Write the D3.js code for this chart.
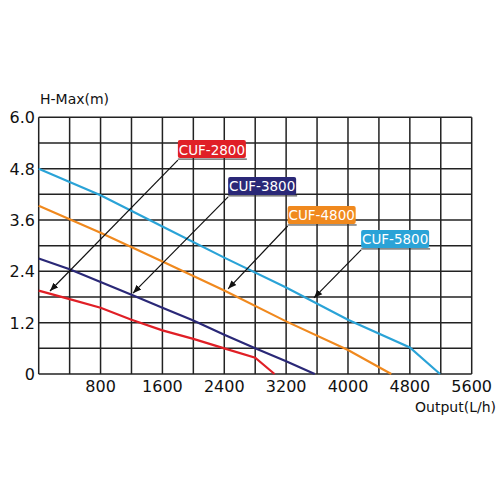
<!DOCTYPE html>
<html><head><meta charset="UTF-8">
<script src="https://d3js.org/d3.v7.min.js"></script>
<style>body{margin:0;background:#fff}svg{display:block}text{font-family:"DejaVu Sans",sans-serif}</style>
</head><body><svg width="500" height="500"></svg>
<script>
const xTicks = [800, 1600, 2400, 3200, 4000, 4800, 5600];
const yTicks = [0, 1.2, 2.4, 3.6, 4.8, 6.0];
const cuf2800 = [[0,1.95],[400,1.75],[800,1.55],[1200,1.27],[1600,1.02],[2000,0.82],[2400,0.6],[2800,0.38],[3050,0]];
const cuf3800 = [[0,2.7],[400,2.45],[800,2.15],[1200,1.85],[1600,1.55],[2000,1.25],[2400,0.92],[2800,0.6],[3200,0.3],[3570,0]];
const cuf4800 = [[0,3.93],[800,3.3],[1600,2.63],[2400,1.95],[3200,1.23],[4000,0.56],[4560,0]];
const cuf5800 = [[0,4.8],[800,4.18],[1600,3.45],[2400,2.72],[3200,2.02],[4000,1.27],[4800,0.62],[5190,0]];
const names = ["CUF-2800", "CUF-3800", "CUF-4800", "CUF-5800"];
const colors = ["#e01f26", "#2a2877", "#f0891e", "#2aa3d7"];
// label anchor (arrow start) and arrow tip, data coords
const arrowFrom = [[1800,5.0],[2450,4.14],[3220,3.46],[4170,2.9]];
const arrowTo = [[146,1.94],[1220,1.89],[2450,1.99],[3560,1.78]];

const svg = d3.select("svg");
const x = d3.scaleLinear().domain([0, 5600]).range([38.7, 471.7]);
const y = d3.scaleLinear().domain([0, 6]).range([374, 117.3]);

svg.append("defs").append("marker").attr("id","arr").attr("viewBox","0 -5 10 10")
  .attr("refX",10).attr("markerWidth",7).attr("markerHeight",7).attr("orient","auto")
  .append("path").attr("d","M0,-4L10,0L0,4Z").attr("fill","#111");

const g = svg.append("g");
g.selectAll(".vx").data(d3.range(0, 5601, 400)).join("line")
  .attr("x1", d => x(d)).attr("x2", d => x(d)).attr("y1", y(0)).attr("y2", y(6))
  .attr("stroke", "#222").attr("stroke-width", 1.5);
g.selectAll(".hy").data(d3.range(0, 11).map(i => i * 0.6)).join("line")
  .attr("y1", d => y(d)).attr("y2", d => y(d)).attr("x1", x(0)).attr("x2", x(5600))
  .attr("stroke", "#222").attr("stroke-width", 1.5);

svg.selectAll(".xt").data(xTicks).join("text")
  .attr("x", d => x(d)).attr("y", 392).attr("text-anchor", "middle")
  .attr("font-size", 16).attr("fill", "#111").text(d => d);
svg.selectAll(".yt").data(yTicks).join("text")
  .attr("x", 35).attr("y", d => y(d) + 6).attr("text-anchor", "end")
  .attr("font-size", 16).attr("fill", "#111").text(d => d === 0 ? "0" : d.toFixed(1));
svg.append("text").attr("x", 40).attr("y", 104).attr("font-size", 14).attr("fill", "#111").text("H-Max(m)");
svg.append("text").attr("x", 496).attr("y", 412).attr("text-anchor", "end").attr("font-size", 14).attr("fill", "#111").text("Output(L/h)");

const line = d3.line().x(d => x(d[0])).y(d => y(d[1]));
[cuf2800, cuf3800, cuf4800, cuf5800].forEach((s, i) => {
  svg.append("path").attr("d", line(s)).attr("fill", "none")
    .attr("stroke", colors[i]).attr("stroke-width", 2.2);
});

names.forEach((n, i) => {
  const [fx, fy] = arrowFrom[i];
  const px = x(fx), py = y(fy);
  svg.append("line").attr("x1", px).attr("y1", py).attr("x2", x(arrowTo[i][0])).attr("y2", y(arrowTo[i][1]))
    .attr("stroke", "#111").attr("stroke-width", 1.2).attr("marker-end", "url(#arr)");
  svg.append("line").attr("x1", px).attr("x2", px + 69).attr("y1", py - 1).attr("y2", py - 1)
    .attr("stroke", "#333").attr("stroke-width", 1);
  svg.append("rect").attr("x", px).attr("y", py - 20).attr("width", 68).attr("height", 18)
    .attr("rx", 2).attr("fill", colors[i]);
  svg.append("text").attr("x", px + 34).attr("y", py - 5.5).attr("text-anchor", "middle")
    .attr("font-size", 13.5).attr("font-family", "DejaVu Sans Condensed").attr("fill", "#fff").text(n);
});
</script></body></html>
